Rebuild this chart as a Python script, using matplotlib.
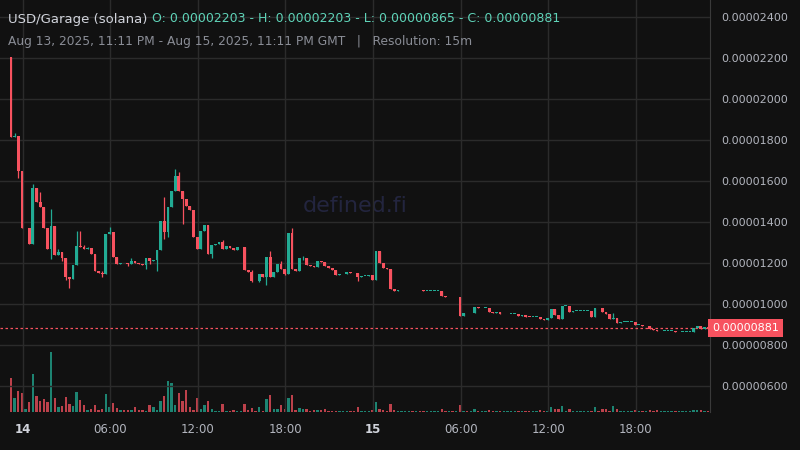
import matplotlib

matplotlib.use("Agg")
import matplotlib.pyplot as plt
from matplotlib.patches import Rectangle

# prices in units of 1e-8
first_open = 2203
closes = [
    1814, 1818, 1651, 1370, 1372, 1292, 1566, 1499, 1475, 1370,
    1268, 1380, 1238, 1253, 1224, 1130, 1121, 1190, 1282, 1277,
    1269, 1272, 1243, 1159, 1152, 1147, 1341, 1352, 1230, 1196,
    1201, 1198, 1196, 1209, 1201, 1196, 1191, 1224, 1209, 1214,
    1261, 1403, 1349, 1473, 1551, 1625, 1551, 1514, 1479, 1460,
    1325, 1267, 1355, 1385, 1243, 1287, 1292, 1302, 1269, 1285,
    1274, 1264, 1277, 1277, 1166, 1157, 1112, 1110, 1145, 1132,
    1229, 1132, 1155, 1194, 1171, 1145, 1344, 1173, 1160, 1222,
    1224, 1189, 1186, 1181, 1208, 1203, 1186, 1175, 1168, 1142,
    1145, 1147, 1155, 1152, 1150, 1130, 1138, 1138, 1140, 1115,
    1259, 1201, 1176, 1173, 1071, 1063, 1066, 1066, 1067, 1067,
    1066, 1067, 1066, 1063, 1064, 1064, 1064, 1064, 1038, 1033,
    1033, 1032, 1033, 943, 958, 955, 956, 985, 979, 980,
    980, 959, 958, 961, 950, 950, 951, 951, 951, 940,
    946, 937, 936, 936, 938, 925, 924, 932, 977, 945,
    925, 990, 990, 963, 966, 966, 966, 966, 966, 935,
    980, 979, 959, 950, 925, 932, 906, 912, 912, 912,
    912, 898, 899, 891, 892, 876, 872, 867, 868, 868,
    868, 868, 862, 863, 863, 863, 863, 881, 894, 876,
    888, 881,
]
wick_idx = [1, 2, 5, 6, 7, 8, 9, 11, 13, 14, 15, 16, 18, 19, 20, 21, 25, 27, 32, 33,
            37, 38, 40, 42, 43, 45, 46, 47, 48, 55, 58, 66, 68, 70, 71, 74, 75, 76, 77, 80,
            95, 118, 165]
wick_hi = [1835, 1818, 1306, 1586, 1510, 1545, 1385, 1463, 1268, 1224, 1130, 1121, 1356, 1356, 1290, 1277, 1162, 1375, 1198, 1224,
           1226, 1224, 1261, 1522, 1473, 1659, 1642, 1551, 1494, 1287, 1312, 1166, 1145, 1229, 1257, 1210, 1171, 1344, 1372, 1234,
           1152, 1050, 958]
wick_lo = [1814, 1615, 1292, 1566, 1499, 1475, 1370, 1219, 1238, 1209, 1115, 1077, 1190, 1277, 1269, 1269, 1131, 1341, 1186, 1196,
           1170, 1195, 1162, 1318, 1328, 1551, 1551, 1392, 1479, 1222, 1269, 1107, 1106, 1091, 1132, 1171, 1139, 1155, 1173, 1214,
           1110, 1038, 932]
volumes = [
    101, 41, 62, 56, 10, 29, 113, 47, 32, 38, 29, 179, 41, 14, 17, 44, 23, 17, 59, 35,
    20, 5, 8, 20, 5, 8, 53, 14, 26, 11, 5, 5, 5, 5, 14, 5, 5, 3, 20, 14,
    5, 32, 47, 92, 86, 20, 56, 32, 65, 14, 5, 41, 8, 20, 32, 8, 3, 3, 23, 3,
    3, 5, 3, 3, 25, 5, 12, 3, 14, 3, 40, 52, 8, 8, 20, 10, 42, 52, 5, 12,
    8, 10, 3, 5, 6, 5, 8, 3, 3, 3, 2, 2, 2, 2, 2, 14, 2, 2, 2, 5,
    31, 10, 5, 3, 25, 5, 2, 2, 2, 2, 2, 2, 2, 2, 2, 2, 2, 2, 10, 2,
    2, 2, 2, 22, 2, 2, 2, 8, 2, 2, 2, 5, 2, 2, 2, 2, 2, 2, 2, 2,
    2, 2, 2, 2, 2, 5, 2, 2, 14, 8, 8, 17, 2, 8, 2, 2, 2, 2, 2, 2,
    14, 2, 8, 8, 2, 17, 8, 2, 2, 2, 2, 5, 2, 2, 2, 5, 2, 5, 2, 2,
    2, 2, 2, 2, 2, 2, 2, 5, 5, 5, 2, 2,
]
tick_pos = [3.2, 27.2, 51.2, 75.2, 99.2, 123.2, 147.2, 171.2]
tick_labels = ["14", "06:00", "12:00", "18:00", "15", "06:00", "12:00", "18:00"]
price_ticks = [600, 800, 1000, 1200, 1400, 1600, 1800, 2000, 2200, 2400]

UP = "#22ab94"
DOWN = "#f7525f"
BG = "#111111"
TXT = "#b2b5be"

fig = plt.figure(figsize=(8, 4.5), dpi=100, facecolor=BG)
ax = fig.add_axes([0, (450 - 412) / 450, 710 / 800, 412 / 450])
ax.set_facecolor(BG)
vax = ax.twinx()
vax.set_zorder(0)
ax.set_zorder(1)
ax.patch.set_visible(False)
vax.set_facecolor(BG)

opens = [first_open] + closes[:-1]
hi_map = dict(zip(wick_idx, wick_hi))
lo_map = dict(zip(wick_idx, wick_lo))
for i, (o, c) in enumerate(zip(opens, closes)):
    col = UP if c >= o else DOWN
    hi = max(hi_map.get(i, o), o, c)
    lo = min(lo_map.get(i, c), o, c)
    ax.vlines(i, lo, hi, color=col, linewidth=0.9, zorder=3)
    body = max(abs(c - o), 3)
    ax.add_patch(Rectangle((i - 0.38, min(o, c)), 0.76, body, color=col, lw=0, zorder=4))
    vax.bar(i, volumes[i], width=0.65, color=col, alpha=0.75, lw=0)

ax.set_xlim(-3.0, 191.5)
ax.set_ylim(473, 2483)
vax.set_ylim(0, 1226)
vax.set_yticks([])

ax.set_xticks(tick_pos)
ax.set_xticklabels(tick_labels, color=TXT, fontsize=8.5)
for lbl in ax.get_xticklabels():
    if lbl.get_text() in ("14", "15"):
        lbl.set_fontweight("bold")
        lbl.set_color("#d1d4dc")
ax.set_yticks(price_ticks)
ax.set_yticklabels([f"{p / 1e8:.8f}" for p in price_ticks], color=TXT, fontsize=8)
ax.yaxis.tick_right()
ax.tick_params(length=0, pad=8)
ax.grid(True, color="#2b2b2b", linewidth=1)
for s in ["top", "left", "bottom"]:
    ax.spines[s].set_visible(False)
for s in vax.spines.values():
    s.set_visible(False)
ax.spines["right"].set_color("#3a3a3a")

last = closes[-1]
ax.axhline(last, color=DOWN, linestyle=(0, (2, 2)), linewidth=0.9, zorder=2)
ax.text(1.003, last, f"{last / 1e8:.8f}", transform=ax.get_yaxis_transform(), va="center",
        ha="left", fontsize=8, color="white",
        bbox={"boxstyle": "square,pad=0.35", "facecolor": DOWN, "edgecolor": "none"})

ax.text(0.5, 0.50, "defined.fi", transform=ax.transAxes, ha="center", va="center",
        fontsize=16, color="#23253f", zorder=0)

fig.text(8 / 800, 1 - 19 / 450, "USD/Garage (solana)", color="#d1d4dc", fontsize=9.5, va="center")
fig.text(152 / 800, 1 - 19 / 450,
         "O: 0.00002203 - H: 0.00002203 - L: 0.00000865 - C: 0.00000881",
         color="#5fd3b8", fontsize=9, va="center")
fig.text(8 / 800, 1 - 41 / 450,
         "Aug 13, 2025, 11:11 PM - Aug 15, 2025, 11:11 PM GMT   |   Resolution: 15m",
         color="#8a8d96", fontsize=8.8, va="center")

fig.savefig("out.png", facecolor=BG)
